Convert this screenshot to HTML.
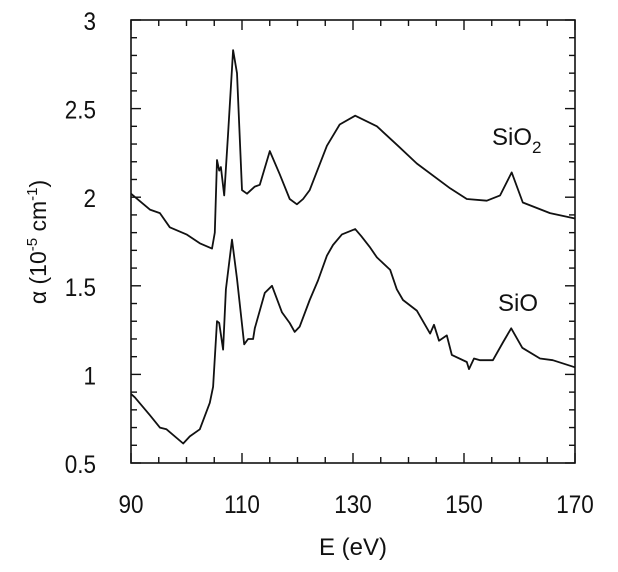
<!DOCTYPE html>
<html><head><meta charset="utf-8"><style>
body{margin:0;background:#fff}
svg text{font-family:"Liberation Sans",sans-serif;fill:#111}
</style></head><body>
<svg id="c" width="618" height="567" viewBox="0 0 618 567" xmlns="http://www.w3.org/2000/svg"></svg>
<script>
const sio2E=[90,93.4,95.2,97,100,102.4,104.6,105.1,105.5,105.9,106.2,106.8,107.5,108.4,109.1,110,110.9,112.3,113.2,115,116.8,118.6,119.9,121,122.2,125.3,127.6,130.4,134.3,138.1,141.5,147.5,150.5,154.1,156.5,158.6,160.6,165.5,170];
const sio2A=[2.02,1.93,1.91,1.83,1.79,1.74,1.71,1.80,2.21,2.15,2.17,2.01,2.36,2.83,2.70,2.04,2.02,2.06,2.07,2.26,2.13,1.99,1.96,1.99,2.04,2.29,2.41,2.46,2.40,2.29,2.19,2.05,1.99,1.98,2.01,2.14,1.97,1.91,1.88];
const sioE=[90,90.7,93.4,95.2,96.4,99.4,100.6,102.4,104.2,104.8,105.5,105.9,106.6,107.1,108.2,109.1,110.4,111.1,112,112.3,114.1,115.4,117.2,118.6,119.5,120.4,122.2,123.7,125.3,126.4,128,130.4,131.5,133,134.3,136.7,137.9,139,141.5,143.9,144.6,145.5,146.9,147.8,150.5,150.9,151.8,152.9,155.2,157,158.5,160.5,163.7,166,170];
const sioA=[0.89,0.87,0.77,0.70,0.69,0.61,0.65,0.69,0.84,0.93,1.30,1.29,1.14,1.48,1.76,1.54,1.17,1.20,1.20,1.26,1.46,1.50,1.35,1.29,1.24,1.27,1.42,1.53,1.67,1.73,1.79,1.82,1.78,1.72,1.66,1.59,1.48,1.42,1.36,1.23,1.28,1.19,1.22,1.11,1.07,1.03,1.09,1.08,1.08,1.18,1.26,1.15,1.09,1.08,1.04];
const xTicks=[90,110,130,150,170];
const yTicks=[0.5,1,1.5,2,2.5,3];
const yLabels=["0.5","1","1.5","2","2.5","3"];
const L=131,R=575,T=20,B=463;
const X=v=>L+(v-90)/80*(R-L);
const Y=v=>B-(v-0.5)/2.5*(B-T);
const svg=document.getElementById('c');
const NS='http://www.w3.org/2000/svg';
function mk(t,a,txt){const e=document.createElementNS(NS,t);for(const k in a)e.setAttribute(k,a[k]);if(txt!==undefined)e.textContent=txt;svg.appendChild(e);return e;}
let f=mk('rect',{x:L,y:T,width:R-L,height:B-T,fill:'none',stroke:'#111','stroke-width':1.6});


for(let v=90;v<=170;v+=5){const maj=(v-90)%20===0;const len=maj?10:6;
let t1=mk('line',{x1:X(v),x2:X(v),y1:B,y2:B-len,stroke:'#111','stroke-width':1.4});


let t2=mk('line',{x1:X(v),x2:X(v),y1:T,y2:T+len,stroke:'#111','stroke-width':1.4});

}
for(let i=5;i<=30;i++){const v=i/10;const maj=i%5===0;const len=maj?10:6;
let t1=mk('line',{x1:L,x2:L+len,y1:Y(v),y2:Y(v),stroke:'#111','stroke-width':1.4});


let t2=mk('line',{x1:R,x2:R-len,y1:Y(v),y2:Y(v),stroke:'#111','stroke-width':1.4});

}
xTicks.forEach(v=>{let t=mk('text',{x:X(v),y:513,'font-size':25,'text-anchor':'middle',transform:`translate(${X(v)*0.1},0) scale(0.9,1)`},String(v));

});
yTicks.forEach((v,i)=>{let t=mk('text',{x:96/0.9,y:Y(v)+10,'font-size':25,'text-anchor':'end',transform:'scale(0.9,1)'},yLabels[i]);

});
function line(xs,ys,name){const d=xs.map((x,i)=>(i?'L':'M')+X(x).toFixed(1)+' '+Y(ys[i]).toFixed(1)).join(' ');
const p=mk('path',{d:d,fill:'none',stroke:'#111','stroke-width':1.8,'stroke-linejoin':'round'});

}
line(sio2E,sio2A,'sio2-series');
line(sioE,sioA,'sio-series');
let a=mk('text',{x:492,y:145,'font-size':24});a.innerHTML='SiO<tspan dy="8" font-size="17">2</tspan>';


let b=mk('text',{x:498,y:311,'font-size':24},'SiO');


let xt=mk('text',{x:353,y:555,'font-size':24,'text-anchor':'middle'},'E (eV)');


let yt=mk('text',{x:0,y:0,'font-size':23,'text-anchor':'middle',transform:'translate(46,242) rotate(-90)'});
yt.innerHTML='α (10<tspan dy="-9" font-size="15">-5</tspan><tspan dy="9"> cm</tspan><tspan dy="-9" font-size="15">-1</tspan><tspan dy="9">)</tspan>';


</script>
</body></html>
